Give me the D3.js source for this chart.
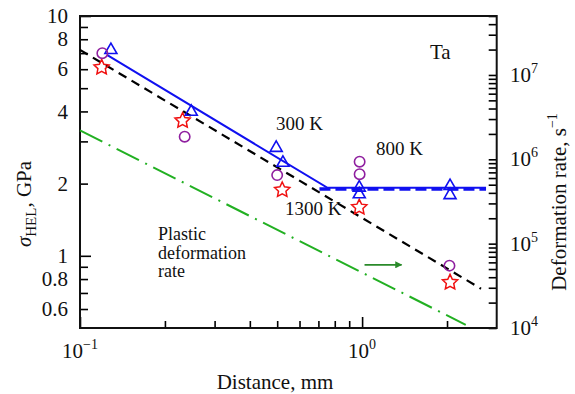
<!DOCTYPE html>
<html>
<head>
<meta charset="utf-8">
<script src="https://cdn.jsdelivr.net/npm/d3@7"></script>
<style>
  html, body { margin: 0; padding: 0; background: #fff; }
  svg text { font-family: "Liberation Serif", "Times New Roman", serif; fill: #111; }
</style>
</head>
<body>
<svg id="chart" width="575" height="394"></svg>
<script>
// ---- data ----
// Ta: Hugoniot elastic limit (GPa) versus sample thickness (mm)
const circleDist = [0.12, 0.235, 0.50, 0.98, 0.98, 2.04];
const circleHEL  = [7.0, 3.14, 2.17, 2.47, 2.19, 0.91];

const triDist = [0.1287, 0.248, 0.496, 0.524, 0.977, 0.977, 2.05, 2.05];
const triHEL  = [7.29, 4.03, 2.85, 2.47, 1.945, 1.825, 1.976, 1.81];

const starDist = [0.1193, 0.231, 0.521, 0.977, 2.05];
const starHEL  = [6.15, 3.69, 1.896, 1.605, 0.781];

// fitted curves
const line300Dist = [0.1246, 0.754, 2.75];
const line300HEL  = [6.88, 1.92, 1.92];
const line800Dist = [0.706, 2.75];
const line800HEL  = [1.90, 1.90];
const line1300Dist = [0.1, 2.64];
const line1300HEL  = [7.22, 0.729];
// plastic deformation rate (right axis, 1/s)
const rateDist = [0.1, 2.33];
const rateVal  = [2.2e6, 1.09e4];
const arrowDist = [1.02, 1.38];
const arrowHEL  = 0.917;

// axis ticks
const yLabelled = [10, 8, 6, 4, 2, 1, 0.8, 0.6];
const yMinor = [0.6, 0.7, 0.8, 0.9, 1, 2, 3, 4, 5, 6, 7, 8, 9, 10];
const xMajor = [0.1, 1];
const xMinor = [0.2, 0.3, 0.4, 0.5, 0.6, 0.7, 0.8, 0.9, 2];
const rMajorExp = [4, 5, 6, 7];
const plasticLines = ["Plastic", "deformation", "rate"];

// ---- layout ----
const svg = d3.select("#chart");
const L = 80, R = 496.7, T = 16, B = 328;

const x = d3.scaleLog().domain([0.1, 3]).range([L, R]);
const y = d3.scaleLog().domain([0.5, 10]).range([B, T]);
const yR = d3.scaleLog().domain([1e4, 5e7]).range([B, T]);

const blue = "#1010f0", purple = "#8f1f9f", red = "#f01010", green = "#22b022", dgreen = "#2a8a2a";

// ---- axes ----
// bottom axis, ticks pointing up
svg.append("g").attr("transform", `translate(0,${B})`)
  .call(d3.axisBottom(x).tickValues(xMinor).tickSize(-7).tickSizeOuter(0).tickFormat(""))
  .call(g => g.select(".domain").remove())
  .call(g => g.selectAll("line").attr("stroke-width", 1.6));
svg.append("g").attr("transform", `translate(0,${B})`)
  .call(d3.axisBottom(x).tickValues(xMajor).tickSize(-11).tickSizeOuter(0).tickFormat(""))
  .call(g => g.select(".domain").remove())
  .call(g => g.selectAll("line").attr("stroke-width", 1.6));

const xLab = svg.append("g").selectAll("text").data(xMajor).join("text")
  .attr("x", d => x(d)).attr("y", 358).attr("text-anchor", "middle")
  .style("font-size", "21px");
xLab.append("tspan").text("10");
xLab.append("tspan").attr("dy", -9).style("font-size", "14px")
  .text(d => d === 1 ? "0" : "\u22121");

// left axis, ticks pointing right
svg.append("g").attr("transform", `translate(${L},0)`)
  .call(d3.axisLeft(y).tickValues(yMinor).tickSize(-8).tickSizeOuter(0).tickPadding(12)
    .tickFormat(d => yLabelled.includes(d) ? String(d) : ""))
  .call(g => g.select(".domain").remove())
  .call(g => g.selectAll("line").attr("stroke-width", 1.6)
    .attr("x2", d => (d === 1 || d === 10) ? 11 : 8))
  .call(g => g.selectAll("text").style("font-size", "21px")
    .style("font-family", "'Liberation Serif', serif").attr("fill", "#111"));

// right axis, ticks pointing left
const rMinor = [];
rMajorExp.forEach(e => { for (let k = 1; k <= 9; k++) { const v = k * Math.pow(10, e); if (v <= 5e7) rMinor.push(v); } });
svg.append("g").attr("transform", `translate(${R},0)`)
  .call(d3.axisRight(yR).tickValues(rMinor).tickSize(-8).tickSizeOuter(0).tickFormat(""))
  .call(g => g.select(".domain").remove())
  .call(g => g.selectAll("line").attr("stroke-width", 1.6));

const rLab = svg.append("g").selectAll("text").data(rMajorExp).join("text")
  .attr("x", 510).attr("y", d => yR(Math.pow(10, d)) + 7)
  .style("font-size", "21px");
rLab.append("tspan").text("10");
rLab.append("tspan").attr("dy", -9).style("font-size", "14px").text(d => d);

// frame
svg.append("rect").attr("x", L).attr("y", T).attr("width", R - L).attr("height", B - T)
  .attr("fill", "none").attr("stroke", "#111").attr("stroke-width", 2);

// ---- curves ----
const plot = svg.append("g");
const lineHEL = d3.line().x(d => x(d[0])).y(d => y(d[1]));
const lineRate = d3.line().x(d => x(d[0])).y(d => yR(d[1]));

plot.append("path").datum(d3.zip(rateDist, rateVal)).attr("d", lineRate)
  .attr("fill", "none").attr("stroke", green).attr("stroke-width", 2)
  .attr("stroke-dasharray", "25,7,2,7");

plot.append("path").datum(d3.zip(line1300Dist, line1300HEL)).attr("d", lineHEL)
  .attr("fill", "none").attr("stroke", "#000").attr("stroke-width", 2.2)
  .attr("stroke-dasharray", "9,6");

plot.append("path").datum(d3.zip(line800Dist, line800HEL)).attr("d", lineHEL)
  .attr("fill", "none").attr("stroke", blue).attr("stroke-width", 3.6)
  .attr("stroke-dasharray", "11,5");

plot.append("path").datum(d3.zip(line300Dist, line300HEL)).attr("d", lineHEL)
  .attr("fill", "none").attr("stroke", blue).attr("stroke-width", 2);

// arrow toward the rate axis
svg.append("defs").append("marker").attr("id", "ah")
  .attr("viewBox", "0 0 10 10").attr("refX", 9).attr("refY", 5)
  .attr("markerWidth", 9).attr("markerHeight", 7).attr("markerUnits", "userSpaceOnUse")
  .attr("orient", "auto")
  .append("path").attr("d", "M0,0 L10,5 L0,10 Z").attr("fill", dgreen);
plot.append("line")
  .attr("x1", x(arrowDist[0])).attr("x2", x(arrowDist[1]))
  .attr("y1", y(arrowHEL)).attr("y2", y(arrowHEL))
  .attr("stroke", dgreen).attr("stroke-width", 1.6).attr("marker-end", "url(#ah)");

// ---- markers ----
function starPath(ro, ri) {
  const pts = [];
  for (let i = 0; i < 10; i++) {
    const r = i % 2 ? ri : ro;
    const a = -Math.PI / 2 + i * Math.PI / 5;
    pts.push([r * Math.cos(a), r * Math.sin(a)]);
  }
  return "M" + pts.map(p => p.join(",")).join("L") + "Z";
}
plot.selectAll(".star").data(d3.zip(starDist, starHEL)).join("path")
  .attr("transform", d => `translate(${x(d[0])},${y(d[1]) + 0.8})`)
  .attr("d", starPath(8, 3.9))
  .attr("fill", "none").attr("stroke", red).attr("stroke-width", 1.5);

plot.selectAll(".tri").data(d3.zip(triDist, triHEL)).join("path")
  .attr("transform", d => `translate(${x(d[0])},${y(d[1])})`)
  .attr("d", "M0,-5.8L6,4.6L-6,4.6Z")
  .attr("fill", "none").attr("stroke", blue).attr("stroke-width", 1.6);

plot.selectAll(".circ").data(d3.zip(circleDist, circleHEL)).join("circle")
  .attr("cx", d => x(d[0])).attr("cy", d => y(d[1])).attr("r", 5.2)
  .attr("fill", "none").attr("stroke", purple).attr("stroke-width", 1.6);

// ---- annotations ----
const ann = svg.append("g").style("font-size", "19px");
ann.append("text").attr("x", 276).attr("y", 130).text("300 K");
ann.append("text").attr("x", 376).attr("y", 155).text("800 K");
ann.append("text").attr("x", 285).attr("y", 215).text("1300 K");
ann.append("text").attr("x", 430).attr("y", 59).style("font-size", "21px").text("Ta");
ann.selectAll(".pl").data(plasticLines).join("text")
  .attr("x", 158).attr("y", (d, i) => 240 + i * 18.5)
  .style("font-size", "18px").text(d => d);

// axis titles
svg.append("text").attr("x", 275).attr("y", 389).attr("text-anchor", "middle")
  .style("font-size", "21px").text("Distance, mm");

const yt = svg.append("text").attr("transform", "translate(31,204) rotate(-90)")
  .attr("text-anchor", "middle").style("font-size", "21px");
yt.append("tspan").style("font-style", "italic").text("\u03c3");
yt.append("tspan").attr("dy", 5).style("font-size", "15px").text("HEL");
yt.append("tspan").attr("dy", -5).text(", GPa");

const rt = svg.append("text").attr("transform", "translate(566,202) rotate(-90)")
  .attr("text-anchor", "middle").style("font-size", "21px");
rt.append("tspan").text("Deformation rate, s");
rt.append("tspan").attr("dy", -9).style("font-size", "14px").text("\u22121");
</script>
</body>
</html>
